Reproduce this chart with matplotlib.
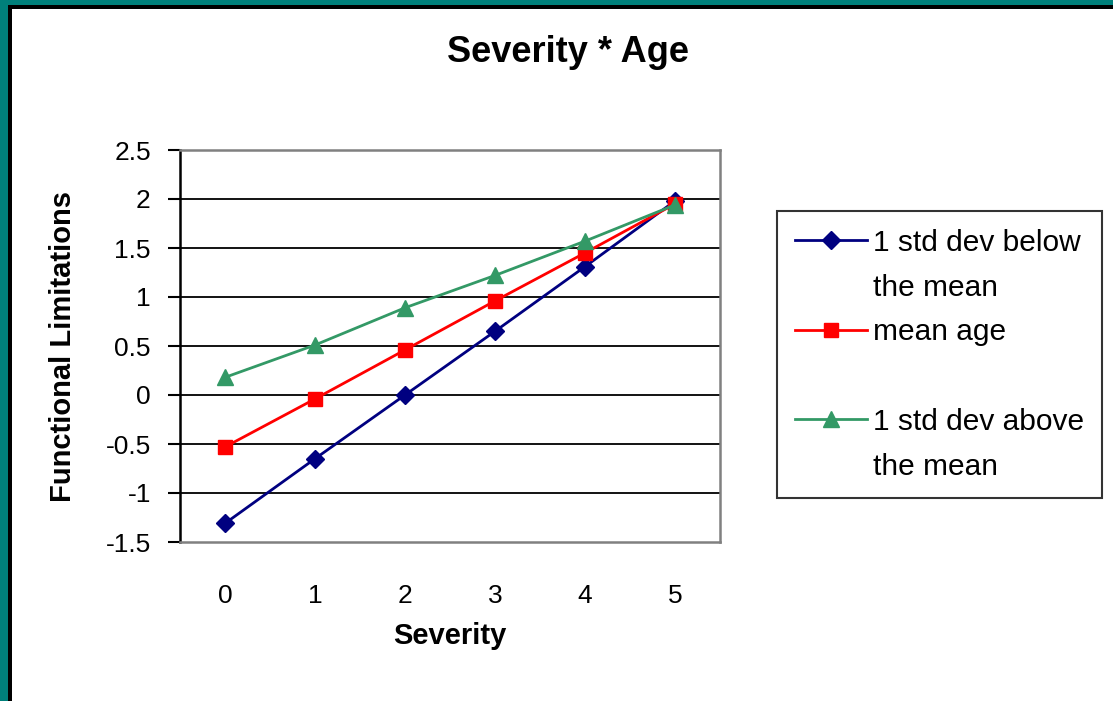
import numpy as np
import matplotlib
matplotlib.use('Agg')
import matplotlib.pyplot as plt
from matplotlib.lines import Line2D
from matplotlib.patches import Rectangle

plt.rcParams['font.family'] = ['Liberation Sans', 'DejaVu Sans']

# values
severity = [0, 1, 2, 3, 4, 5]
below_mean = [-1.31, -0.65, 0.0, 0.65, 1.31, 1.98]
mean_age = [-0.53, -0.04, 0.46, 0.96, 1.45, 1.95]
above_mean = [0.18, 0.51, 0.89, 1.22, 1.57, 1.94]
y_ticks = [-1.5, -1, -0.5, 0, 0.5, 1, 1.5, 2, 2.5]
y_ticklabels = ['-1.5', '-1', '-0.5', '0', '0.5', '1', '1.5', '2', '2.5']

BLUE = '#000080'
RED = '#ff0000'
GREEN = '#339966'
TEAL = '#00807b'

W, H = 1113, 701
fig = plt.figure(figsize=(W / 100, H / 100), dpi=100)
fig.patch.set_facecolor(TEAL)
# slide frame: black edge then white page
fig.add_artist(Rectangle((8 / W, 0), 1, 1 - 5 / H, transform=fig.transFigure,
                         facecolor='black', edgecolor='none', zorder=-2))
fig.add_artist(Rectangle((11.5 / W, 0), 1, 1 - 8.5 / H, transform=fig.transFigure,
                         facecolor='white', edgecolor='none', zorder=-1))

ax = fig.add_axes([180 / W, 1 - 542 / H, 540 / W, 392 / H])
ax.set_facecolor('white')
ax.set_xlim(-0.5, 5.5)
ax.set_ylim(-1.5, 2.5)

for t in y_ticks[1:-1]:
    ax.axhline(t, color='black', lw=1.3, zorder=1)

l1, = ax.plot(severity, below_mean, color=BLUE, lw=2.0, marker='D', ms=9.5,
              mfc=BLUE, mec=BLUE, zorder=3, clip_on=False)
l2, = ax.plot(severity, mean_age, color=RED, lw=2.0, marker='s', ms=10,
              mfc=RED, mec=RED, zorder=4, clip_on=False)
l3, = ax.plot(severity, above_mean, color=GREEN, lw=2.0, marker='^', ms=12,
              mfc=GREEN, mec=GREEN, zorder=5, clip_on=False)

ax.set_xticks(severity)
ax.set_xticklabels([str(s) for s in severity])
ax.set_yticks(y_ticks)
ax.set_yticklabels(y_ticklabels)
ax.tick_params(axis='y', direction='out', length=9, width=1.5, pad=12,
               labelsize=19, color='black')
ax.tick_params(axis='x', length=0, pad=30, labelsize=19)

for side in ['top', 'right', 'bottom']:
    ax.spines[side].set_color('#808080')
    ax.spines[side].set_linewidth(1.8)
ax.spines['left'].set_color('black')
ax.spines['left'].set_linewidth(1.8)

ax.set_xlabel('Severity', fontsize=21, fontweight='bold')
ax.xaxis.set_label_coords(0.5, -0.205)
ax.set_ylabel('Functional Limitations', fontsize=21, fontweight='bold')
ax.yaxis.set_label_coords(-0.19, 0.5)

fig.text(568 / W, 1 - 62 / H, 'Severity * Age', ha='center', va='baseline',
         fontsize=26, fontweight='bold')

# legend: two-line labels split into rows so the handle sits on the first line
blank = Line2D([], [], linestyle='none')
handles = [l1, blank, l2, blank, l3, blank]
labels = ['1 std dev below', 'the mean', 'mean age', ' ', '1 std dev above', 'the mean']
leg = fig.legend(handles, labels, loc='upper left',
                 bbox_to_anchor=(777 / W, 1 - 211 / H), borderaxespad=0,
                 fontsize=21.5, frameon=True, fancybox=False, shadow=False,
                 handlelength=2.4, handletextpad=0.2, borderpad=0.6,
                 labelspacing=0.56)
leg.get_frame().set_edgecolor('black')
leg.get_frame().set_linewidth(1.5)

fig.savefig('out.png', dpi=100, facecolor=fig.get_facecolor())
